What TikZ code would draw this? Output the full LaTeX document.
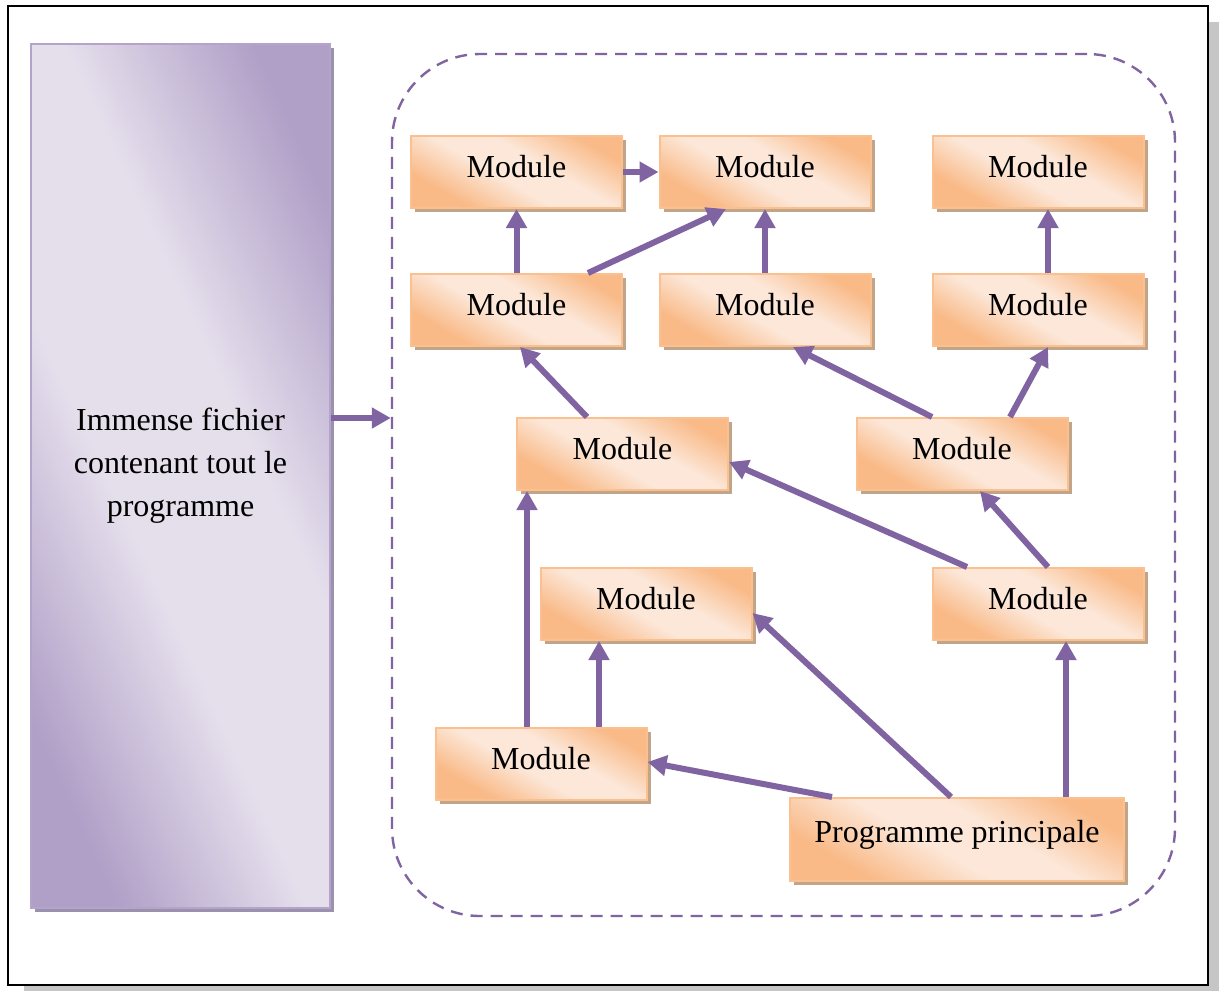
\documentclass[tikz,border=0pt]{standalone}
\usepackage{fontspec}
\setmainfont{Liberation Serif}
\usetikzlibrary{arrows.meta}
\usetikzlibrary{shadows}

\definecolor{violetfleche}{HTML}{8064A2}
\definecolor{orangebord}{HTML}{FAC090}
\definecolor{orangefonce}{HTML}{F9BA88}
\definecolor{orangepale}{HTML}{FCE7D8}
\definecolor{ombremodule}{HTML}{C2A488}
\definecolor{lilasfonce}{HTML}{B09FC7}
\definecolor{lilaspale}{HTML}{E5DFEC}
\definecolor{lilasbord}{HTML}{B4A4CB}
\definecolor{ombrelilas}{HTML}{9C91AD}
\definecolor{ombrecadre}{HTML}{C6C6C6}

\pgfdeclarehorizontalshading{peche}{100bp}{color(0bp)=(orangefonce); color(28bp)=(orangefonce); color(45bp)=(orangepale); color(58bp)=(orangepale); color(75bp)=(orangefonce); color(100bp)=(orangefonce)}
\pgfdeclarehorizontalshading{lilas}{100bp}{color(0bp)=(lilasfonce); color(25bp)=(lilasfonce); color(43bp)=(lilaspale); color(58bp)=(lilaspale); color(76bp)=(lilasfonce); color(100bp)=(lilasfonce)}

\begin{document}
\begin{tikzpicture}
[x=0.5pt,y=-0.5pt,%
  every node/.style={font=\fontsize{16}{21.5}\selectfont},%
  module/.style={rectangle,draw=orangebord,line width=1pt,shading=peche,shading angle=60,%
    minimum width=105.5pt,minimum height=36pt,text depth=6pt,%
    drop shadow={shadow xshift=2pt,shadow yshift=-2pt,fill=ombremodule,opacity=1}},%
  fleche/.style={draw=violetfleche,line width=3pt,-{Triangle[length=9.5pt,width=10pt]}}]
\useasboundingbox (0,0) rectangle (1219,991);
\fill[ombrecadre] (24,22) rectangle (1219,991);
\draw[line width=1pt,fill=white] (8,6) rectangle (1208,985);

\node[rectangle,draw=lilasbord,line width=1pt,shading=lilas,shading angle=25,%
  minimum width=149.5pt,minimum height=432pt,%
  drop shadow={shadow xshift=2pt,shadow yshift=-2pt,fill=ombrelilas,opacity=1},%
  label={[align=center,yshift=5pt]center:Immense fichier\\contenant tout le\\programme}]
  (fichier) at (180.5,476) {};
\node[rectangle,draw=violetfleche,line width=1.2pt,dash pattern=on 6pt off 4pt,%
  rounded corners=44pt,minimum width=391.5pt,minimum height=431pt]
  (zone) at (783.5,485) {};

\node[module] (m1) at (516.5,172) {Module};
\node[module] (m2) at (765,172) {Module};
\node[module] (m3) at (1038,172) {Module};
\node[module] (m4) at (516.5,310) {Module};
\node[module] (m5) at (765,310) {Module};
\node[module] (m6) at (1038,310) {Module};
\node[module] (m7) at (622.5,454) {Module};
\node[module] (m8) at (962,454) {Module};
\node[module] (m9) at (646,604) {Module};
\node[module] (m10) at (1038,604) {Module};
\node[module] (m11) at (541,764) {Module};
\node[module,minimum width=167pt,minimum height=41.5pt,text depth=8pt] (princ) at (957,839.5) {Programme principale};

\draw[fleche] (m1.east) -- (m2.west);
\draw[fleche] (m4.north) -- (m1.south);
\draw[fleche] ([xshift=35.75pt]m4.north) -- ([xshift=-19.5pt]m2.south);
\draw[fleche] (m5.north) -- (m2.south);
\draw[fleche] ([xshift=5pt]m6.north) -- ([xshift=5pt]m3.south);
\draw[fleche] ([xshift=-17.75pt]m7.north) -- ([xshift=1.75pt]m4.south);
\draw[fleche] ([xshift=-15pt]m8.north) -- ([xshift=14pt]m5.south);
\draw[fleche] ([xshift=24pt]m8.north) -- ([xshift=5pt]m6.south);
\draw[fleche] ([xshift=-35.5pt]m10.north) -- ([yshift=-4pt]m7.east);
\draw[fleche] ([xshift=5pt]m10.north) -- ([xshift=9pt]m8.south);
\draw[fleche] ([xshift=-7pt]m11.north) -- ([xshift=-47.75pt]m7.south);
\draw[fleche] ([xshift=29pt]m11.north) -- ([xshift=-23.5pt]m9.south);
\draw[fleche] ([xshift=-62.5pt]princ.north) -- ([yshift=1pt]m11.east);
\draw[fleche] ([xshift=-3pt]princ.north) -- ([yshift=-4.5pt]m9.east);
\draw[fleche] ([xshift=54.5pt]princ.north) -- ([xshift=14pt]m10.south);
\draw[fleche] ([yshift=29pt]fichier.east) coordinate (depart) -- (depart -| zone.west);
\end{tikzpicture}
\end{document}
